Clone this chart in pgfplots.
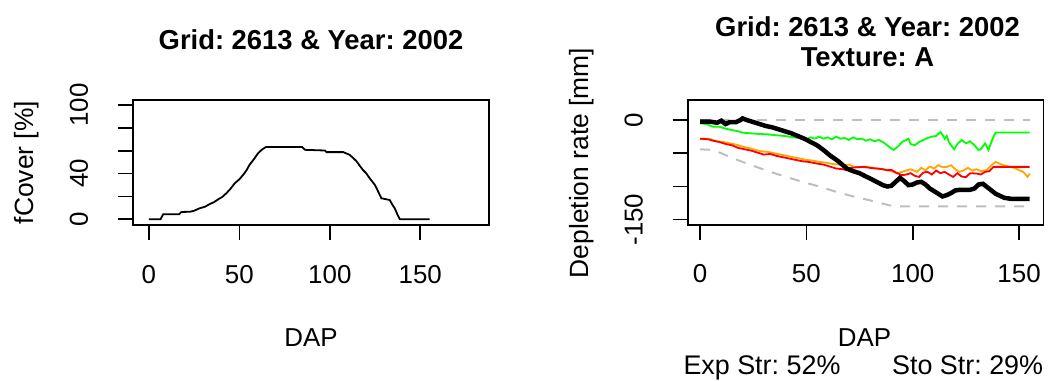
\documentclass[border=0pt]{standalone}
\usepackage{pgfplots}
\pgfplotsset{compat=1.18}
\usepackage{fontspec}
\setmainfont{Liberation Sans}
\frenchspacing
\definecolor{rgreen}{RGB}{0,255,0}
\definecolor{rred}{RGB}{255,0,0}
\definecolor{rorange}{RGB}{255,165,0}
\definecolor{rgray}{RGB}{190,190,190}

\pgfplotsset{
  rbase/.style={
    scale only axis,
    axis line style={line width=1.6bp, black},
    tick style={line width=1.6bp, black},
    tick align=outside,
    major tick length=15bp,
    xtick pos=bottom, ytick pos=left,
    clip=true,
    every tick label/.append style={font=\fontsize{26}{30}\selectfont, inner sep=0pt},
    xticklabel style={anchor=base, yshift=-43bp},
    yticklabel style={xshift=-30bp, rotate=90, anchor=base},
  },
}

\begin{document}
\begin{tikzpicture}
\path[use as bounding box] (0,0) rectangle (1049bp,381bp);

% ---------- fCover ----------
\begin{axis}[rbase,
  at={(133bp,156bp)}, anchor=south west,
  width=356bp, height=125bp,
  xmin=-8.8, xmax=188, ymin=-5, ymax=104.4,
  xtick={0,50,100,150}, xticklabels={0,50,100,150},
  ytick={0,20,40,60,80,100}, yticklabels={0,,40,,,100},
]
\addplot[black, line width=1.8bp] coordinates {
(0,0) (6.4,0) (7.9,4.4) (16.7,4.4) (18,6.4) (22.7,6.6) (25,7.5) (28,9.6)
(31,11) (33.7,13.4) (36,15) (38.3,17.5) (40.5,19.5) (42.8,22.8) (45,26.5)
(47.5,31.6) (50,35) (52.1,38.9) (54,43) (55.6,47.6) (58,52.5) (60.4,57.9)
(62.5,61) (64.6,63.2) (84.7,63.2) (86.2,60.8) (97.2,60.2) (98.2,58.8)
(107.4,58.8) (111,56.4) (114.6,51.1) (116.5,47) (118.3,43.2) (120,40.5)
(122,36) (124.9,30.1) (126.5,25) (128.5,18.4) (133.1,16.9) (134.5,13)
(135.9,9.6) (137.3,4.5) (138.7,0) (155.2,0)
};
\end{axis}

% ---------- Depletion ----------
\begin{axis}[rbase,
  at={(687.7bp,156bp)}, anchor=south west,
  width=355.6bp, height=125bp,
  xmin=-5.8, xmax=161.4, ymin=-158, ymax=30.2,
  xtick={0,50,100,150}, xticklabels={0,50,100,150},
  ytick={-150,-100,-50,0}, yticklabels={-150,,,0},
]
% upper and lower limits
\addplot[rgray, line width=2bp, dash pattern=on 10bp off 9bp] coordinates {
(0,0) (155,0)
};
\addplot[rgray, line width=2bp, dash pattern=on 10bp off 9bp] coordinates {
(0,-44) (6,-45) (10,-50) (15,-57) (20,-63) (26,-70) (33,-78) (40,-85)
(48,-93) (56,-100) (64,-108) (72,-115) (80,-121) (86,-126) (90,-129)
(93,-130) (155,-130)
};
% green
\addplot[rgreen, line width=1.8bp] coordinates {
(0,-5) (3,-6) (6,-10) (9,-10) (12,-13) (15,-15) (18,-17) (20,-19) (24,-20)
(28,-21) (32,-21.5) (36,-23) (40,-24) (44,-26) (48,-27.7) (50,-29) (52,-26)
(54,-28) (56,-25) (58,-28) (60,-26) (62,-29) (64,-25) (66,-28) (68,-27)
(70,-30) (72,-26) (74,-29) (76,-28) (78,-31) (80,-29) (82,-32) (84,-30)
(86,-33) (88,-38) (90,-43) (91,-45) (93,-40) (95,-33) (97,-30) (98,-28)
(99,-36) (101,-38) (103,-33) (105,-30) (107,-27) (109,-25) (111,-24)
(113,-18) (114,-22) (115,-28) (116,-24) (117,-33) (118,-38) (119.5,-44)
(121,-36) (123,-30) (125,-35) (127,-32) (129,-38) (131,-45) (132,-44)
(134,-35) (135.6,-45) (137,-33) (138,-25) (139,-18.6) (155,-18.6)
};
% orange
\addplot[rorange, line width=1.8bp] coordinates {
(0,-28) (5,-29) (8,-32) (11,-33) (14,-35) (17,-37) (20,-40) (23,-42)
(26,-45) (29,-47) (32,-48) (35,-50) (38,-52) (41,-54) (44,-56) (47,-58)
(50,-60) (53,-61) (56,-63) (59,-64) (62,-66) (65,-67) (68,-68) (70,-67)
(72,-70) (75,-71) (78,-70) (81,-72) (84,-73) (87,-75) (90,-77) (93,-80)
(96,-77) (99,-74) (102,-78) (104,-72) (106,-75.5) (108,-70) (110,-73)
(112,-68) (114,-71) (116,-70.5) (118,-68) (120,-74) (122,-78) (124,-75.5)
(126,-72) (128,-76) (130,-74) (132,-77) (134.6,-75.5) (137,-68) (139,-63)
(141,-66) (143,-68) (145.6,-70.5) (148,-72) (150,-75.5) (152,-78)
(154,-85.6) (155,-80.5)
};
% red
\addplot[rred, line width=1.8bp] coordinates {
(0,-28) (4,-29) (6,-31) (9,-33) (12,-36) (15,-38) (18,-42) (21,-44)
(24,-46) (27,-49) (30,-52) (33,-51) (36,-54) (39,-56) (42,-58) (45,-60)
(48,-62) (51,-63) (55,-65.5) (58,-67) (61,-70) (64,-73) (67,-74)
(69,-75.5) (71,-72) (74,-71) (77,-70.5) (80,-72) (83,-73) (86,-74)
(88,-75.5) (90,-75) (92,-79) (95,-83) (97,-82) (99,-80) (101,-84)
(103,-85.6) (105,-79) (107,-78) (109,-82) (111,-76) (113,-80) (115,-78)
(117,-82) (119,-85.6) (121,-80) (123,-85) (125,-86) (127,-80) (130,-80.5)
(132,-82) (134,-78) (136,-77) (138,-70.5) (155,-70.5)
};
% black
\addplot[black, line width=4.5bp] coordinates {
(0,-2.5) (5,-2.5) (8,-4) (10,-1) (12,-6) (14,-3) (17,-3) (19,0) (20,2.5)
(22,0) (25,-3) (28,-6) (31,-9) (34,-11) (37,-14) (40,-17) (43,-20)
(46,-24) (49,-28) (52,-33) (55,-38) (58,-45) (61,-53) (65,-62) (69,-73)
(72,-77) (75,-80) (78,-85) (80,-88) (83,-93) (86,-98) (88,-100) (90,-99)
(92,-93) (94,-87) (96,-92) (98,-98) (100,-97) (102,-94) (104,-93)
(106,-97) (108,-103) (110,-107) (112,-111) (114,-115) (116,-113)
(118,-110) (120,-106) (122,-105) (125,-105) (127,-105) (129,-103)
(131,-97) (133,-96) (135,-101) (137,-106) (139,-111) (141,-114)
(143,-117) (146,-118.5) (155,-118.5)
};
\end{axis}

% titles and axis labels
\begin{scope}[every node/.style={inner sep=0pt}]
\node[anchor=base, font=\fontsize{27.5}{32}\selectfont\bfseries] at (311bp,331bp) {Grid: 2613 \& Year: 2002};
\node[anchor=base, font=\fontsize{27.5}{32}\selectfont\bfseries] at (867.5bp,344.3bp) {Grid: 2613 \& Year: 2002};
\node[anchor=base, font=\fontsize{27.5}{32}\selectfont\bfseries] at (867.5bp,314.3bp) {Texture: A};
\node[anchor=base, font=\fontsize{26}{30}\selectfont] at (311bp,34.3bp) {DAP};
\node[anchor=base, font=\fontsize{26}{30}\selectfont] at (864.5bp,34.3bp) {DAP};
\node[anchor=base, rotate=90, font=\fontsize{26.5}{30}\selectfont] at (33.3bp,218.5bp) {fCover [\%]};
\node[anchor=base, rotate=90, font=\fontsize{26.5}{30}\selectfont] at (588.3bp,218bp) {Depletion rate [mm]};
\node[anchor=base west, font=\fontsize{27}{30}\selectfont] at (683.3bp,7bp) {Exp Str: 52\%};
\node[anchor=base east, font=\fontsize{27}{30}\selectfont] at (1043.3bp,7bp) {Sto Str: 29\%};
\end{scope}
\end{tikzpicture}
\end{document}
